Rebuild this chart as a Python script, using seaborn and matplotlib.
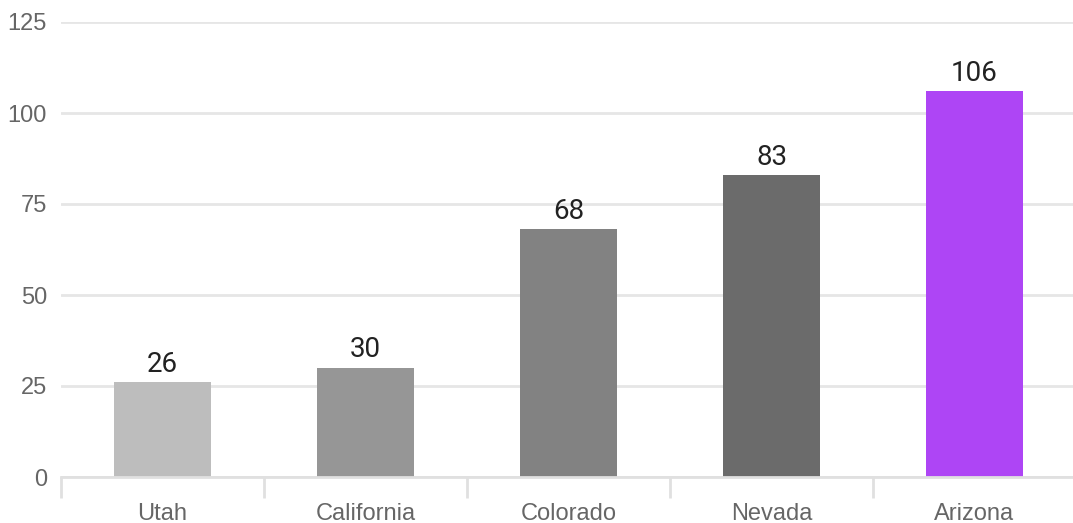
import matplotlib
matplotlib.use("Agg")
import matplotlib.pyplot as plt
import seaborn as sns
import pandas as pd

states = ["Utah", "California", "Colorado", "Nevada", "Arizona"]
values = [26, 30, 68, 83, 106]
colors = ["#bdbdbd", "#969696", "#828282", "#6b6b6b", "#ae45f5"]
y_ticks = [0, 25, 50, 75, 100, 125]

sns.set_theme(style="white")
plt.rcParams["font.family"] = ["Liberation Sans", "DejaVu Sans"]

df = pd.DataFrame({"state": states, "value": values})

fig = plt.figure(figsize=(10.73, 5.23), dpi=100)
ax = fig.add_axes([61 / 1073, 1 - 477 / 523, 1015 / 1073, 455 / 523])

sns.barplot(data=df, x="state", y="value", hue="state", palette=colors,
            legend=False, width=0.48, saturation=1, linewidth=0,
            ax=ax, zorder=3)

ax.set_ylim(0, 125)
ax.set_xlim(-0.5, 4.5)
ax.set_yticks(y_ticks)
ax.set_yticklabels([str(t) for t in y_ticks])
ax.grid(axis="y", color="#e6e6e6", linewidth=2, zorder=0)
ax.grid(axis="x", visible=False)
for s in ["top", "right", "left"]:
    ax.spines[s].set_visible(False)
ax.spines["bottom"].set_color("#e0e0e0")
ax.spines["bottom"].set_linewidth(2)
ax.spines["bottom"].set_zorder(4)

ax.set_xlabel("")
ax.set_ylabel("")
ax.tick_params(axis="y", left=False, length=0, labelsize=17,
               labelcolor="#666666", pad=10)
# major ticks carry the labels; minor ticks mark category boundaries
ax.tick_params(axis="x", which="major", bottom=False, length=0, labelsize=17,
               labelcolor="#666666", pad=18.5)
ax.set_xticks([i - 0.5 for i in range(len(states) + 1)], minor=True)
ax.tick_params(axis="x", which="minor", bottom=True, length=15, width=2,
               color="#e0e0e0")

for i, v in enumerate(values):
    ax.text(i, v + 1.2, str(v), ha="center", va="bottom", fontsize=20,
            color="#222222", family=["Roboto", "DejaVu Sans"], zorder=5)

fig.savefig("out.png", dpi=100)
